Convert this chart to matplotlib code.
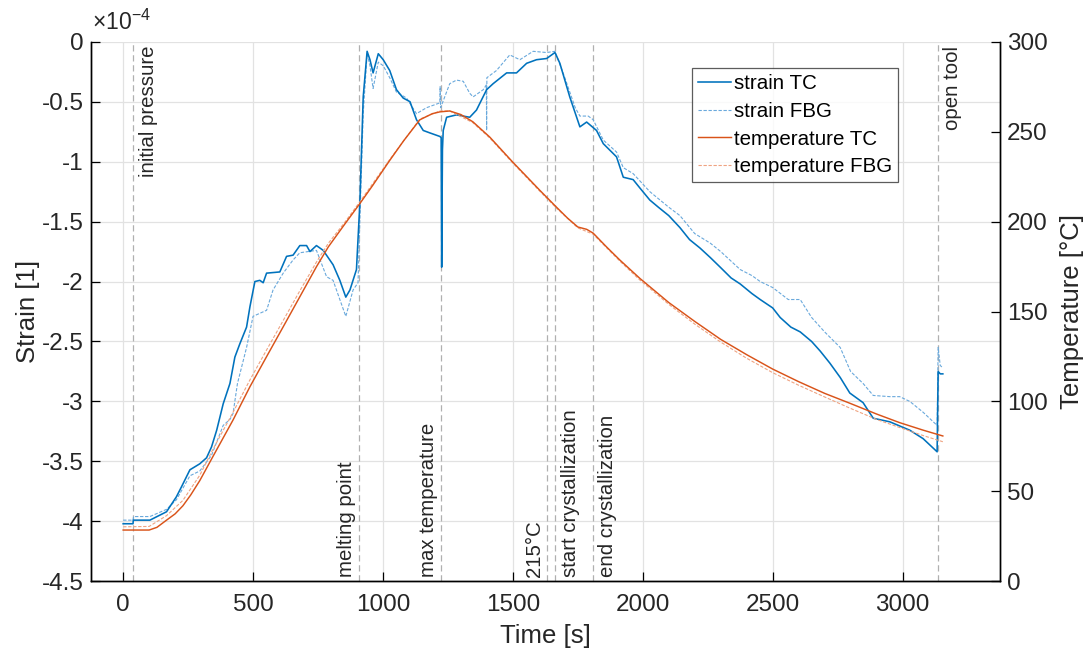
import matplotlib

matplotlib.use("Agg")
import matplotlib.pyplot as plt
from matplotlib.ticker import FuncFormatter

plt.rcParams.update(
    {
        "font.family": ["Liberation Sans", "DejaVu Sans"],
        "axes.unicode_minus": False,
        "mathtext.fontset": "custom",
        "mathtext.rm": "Liberation Sans",
    }
)

# strain in units of 1e-4
t_strain_tc = [0, 38, 39, 103, 167, 205, 225, 257, 295, 321, 340, 360, 385, 411, 430, 449, 475,
               488, 507, 526, 539, 552, 603, 629, 654, 680, 706, 719, 744, 770, 808, 834, 857,
               873, 898, 911, 924, 939, 950, 962, 982, 1001, 1026, 1052, 1078, 1104, 1129, 1155,
               1180, 1219, 1224, 1226, 1229, 1232, 1245, 1283, 1334, 1360, 1399, 1424, 1476,
               1514, 1553, 1591, 1630, 1662, 1681, 1719, 1758, 1784, 1822, 1848, 1899, 1925,
               1963, 1989, 2027, 2060, 2100, 2143, 2180, 2220, 2260, 2298, 2340, 2375, 2420,
               2452, 2500, 2529, 2570, 2606, 2650, 2683, 2720, 2760, 2797, 2848, 2887, 2951,
               3028, 3079, 3133, 3137, 3145, 3155]
strain_tc = [-4.02, -4.02, -3.99, -3.99, -3.92, -3.795, -3.71, -3.57, -3.52, -3.47, -3.38, -3.24,
             -3.02, -2.85, -2.63, -2.52, -2.38, -2.21, -2.00, -1.99, -2.01, -1.93, -1.92, -1.79,
             -1.78, -1.70, -1.70, -1.75, -1.70, -1.74, -1.86, -1.99, -2.13, -2.07, -1.90, -1.35,
             -0.46, -0.08, -0.15, -0.26, -0.10, -0.15, -0.24, -0.40, -0.47, -0.50, -0.65, -0.74,
             -0.76, -0.79, -0.80, -1.88, -0.90, -0.74, -0.63, -0.61, -0.63, -0.57, -0.40, -0.35,
             -0.26, -0.26, -0.18, -0.15, -0.14, -0.09, -0.18, -0.46, -0.71, -0.67, -0.74, -0.85,
             -0.96, -1.13, -1.15, -1.22, -1.32, -1.38, -1.45, -1.55, -1.65, -1.72, -1.80, -1.88,
             -1.97, -2.02, -2.10, -2.15, -2.22, -2.30, -2.38, -2.42, -2.50, -2.58, -2.68, -2.80,
             -2.93, -3.01, -3.14, -3.17, -3.24, -3.31, -3.42, -2.75, -2.77, -2.77]

t_strain_fbg = [0, 38, 40, 103, 167, 205, 257, 295, 340, 385, 411, 423, 440, 475, 500, 552, 577,
                616, 654, 680, 744, 783, 808, 834, 857, 885, 904, 911, 924, 939, 950, 962, 982,
                1001, 1026, 1052, 1091, 1129, 1168, 1219, 1220, 1222, 1257, 1283, 1309, 1334,
                1347, 1386, 1398, 1399, 1400, 1437, 1488, 1527, 1578, 1630, 1662, 1700, 1740,
                1758, 1790, 1809, 1848, 1899, 1925, 1963, 2027, 2100, 2143, 2200, 2260, 2300,
                2375, 2420, 2452, 2500, 2560, 2606, 2650, 2700, 2760, 2800, 2848, 2887, 2951,
                2989, 3028, 3079, 3133, 3137, 3145, 3155]
strain_fbg = [-3.99, -3.99, -3.96, -3.96, -3.90, -3.82, -3.62, -3.58, -3.45, -3.20, -3.15, -3.10,
              -2.85, -2.55, -2.29, -2.24, -2.07, -1.93, -1.82, -1.76, -1.74, -1.96, -1.99, -2.15,
              -2.29, -2.07, -2.01, -1.50, -0.60, -0.10, -0.20, -0.39, -0.17, -0.20, -0.30, -0.42,
              -0.47, -0.60, -0.55, -0.51, -0.375, -0.55, -0.35, -0.32, -0.33, -0.43, -0.46, -0.40,
              -0.36, -0.74, -0.30, -0.24, -0.11, -0.15, -0.08, -0.09, -0.08, -0.30, -0.55, -0.62,
              -0.62, -0.65, -0.82, -0.92, -1.05, -1.10, -1.25, -1.38, -1.45, -1.60, -1.68, -1.75,
              -1.90, -1.95, -2.00, -2.05, -2.15, -2.15, -2.30, -2.42, -2.55, -2.75, -2.85, -2.95,
              -2.96, -2.96, -3.00, -3.09, -3.20, -2.55, -2.70, -2.72]

t_temp_tc = [0, 100, 130, 167, 200, 230, 260, 295, 346, 423, 488, 552, 616, 680, 744, 790, 850,
             911, 960, 1026, 1080, 1142, 1190, 1219, 1257, 1300, 1346, 1411, 1500, 1550,
             1603, 1668, 1710, 1750, 1784, 1809, 1860, 1912, 1989, 2100, 2200, 2300, 2400, 2500,
             2600, 2700, 2797, 2900, 2989, 3080, 3155]
temp_tc = [28.5, 28.5, 30, 34, 37.5, 42, 48, 56, 69.5, 89.7, 108.2, 124.9, 141.5, 158.2,
           174.9, 186, 198, 210, 220, 234, 245, 256.6, 260, 261, 261.5, 259.5, 255.5, 247,
           233, 225.5, 217.5, 208, 202, 197, 195.7, 193.6, 186, 178.6, 168.4, 155, 144.5, 134.5,
           126, 118, 111, 104.5, 99, 93, 88.2, 84, 80.8]

t_temp_fbg = [0, 100, 167, 230, 295, 346, 423, 488, 552, 616, 680, 744, 790, 850, 911, 1026,
              1142, 1219, 1257, 1346, 1411, 1500, 1603, 1668, 1750, 1809, 1912, 1989, 2100, 2200,
              2300, 2400, 2500, 2600, 2700, 2797, 2900, 2989, 3080, 3155]
temp_fbg = [30.3, 30.5, 36.5, 45, 59, 73.5, 94, 112, 128.6, 145, 161.5, 177.5, 188, 199, 211,
            234.5, 257, 261.5, 261.5, 255, 246.5, 232.5, 217, 207.5, 196.5, 193, 178, 167.5, 154,
            143, 133, 124, 116, 109, 102.5, 96.3, 90, 85.5, 81, 77.6]

event_times = [38, 906, 1224, 1630, 1663, 1807, 3135]
event_labels = ["initial pressure", "melting point", "max temperature", "215°C",
                "start crystallization", "end crystallization", "open tool"]
event_side = ["top_right", "bottom_left", "bottom_left", "bottom_left",
              "bottom_right", "bottom_right", "top_right"]

BLUE = "#0072BD"
LIGHT_BLUE = "#6AA9DC"
ORANGE = "#D95319"
LIGHT_ORANGE = "#EFA381"

fig = plt.figure(figsize=(10.86, 6.53), dpi=100)
ax = fig.add_axes([0.0835, 0.1098, 0.8373, 0.8263])
ax2 = ax.twinx()

ax.set_xlim(-125, 3375)
ax.set_ylim(-4.5, 0)
ax2.set_ylim(0, 300)
ax.set_yticks([-4.5, -4, -3.5, -3, -2.5, -2, -1.5, -1, -0.5, 0])
ax.yaxis.set_major_formatter(FuncFormatter(lambda v, p: f"{v:g}"))
ax.set_xticks([0, 500, 1000, 1500, 2000, 2500, 3000])
ax2.set_yticks([0, 50, 100, 150, 200, 250, 300])

ax.grid(True, color="#e2e2e2", linewidth=0.9)
ax.set_axisbelow(True)

for t in event_times:
    ax.axvline(t, color="#b0b0b0", linewidth=0.9, dashes=(5, 3), zorder=1)

l1, = ax.plot(t_strain_tc, strain_tc, color=BLUE, linewidth=1.15, zorder=4)
l2, = ax.plot(t_strain_fbg, strain_fbg, color=LIGHT_BLUE, linewidth=0.8,
              dashes=(3, 1.5), zorder=3)
l3, = ax2.plot(t_temp_tc, temp_tc, color=ORANGE, linewidth=1.05, zorder=4)
l4, = ax2.plot(t_temp_fbg, temp_fbg, color=LIGHT_ORANGE, linewidth=0.8,
               dashes=(3, 1.5), zorder=3)

ann_kw = dict(textcoords="offset points", rotation=90, fontsize=14.7, color="#262626")
for t, lab, side in zip(event_times, event_labels, event_side):
    if side == "top_right":
        ax.annotate(lab, xy=(t, 0), xytext=(4, -3), ha="left", va="top", **ann_kw)
    elif side == "bottom_left":
        ax.annotate(lab, xy=(t, -4.5), xytext=(-2, 3), ha="right", va="bottom", **ann_kw)
    else:
        ax.annotate(lab, xy=(t, -4.5), xytext=(4, 3), ha="left", va="bottom", **ann_kw)

for a in (ax, ax2):
    a.spines["top"].set_visible(False)
    for s in a.spines.values():
        s.set_linewidth(1.0)
        s.set_color("#000000")
ax.tick_params(axis="both", direction="in", length=6.5, width=0.9, labelsize=17.5,
               colors="#000000", labelcolor="#262626", pad=9)
ax.tick_params(axis="y", pad=5)
ax2.tick_params(axis="y", direction="in", length=6.5, width=0.9, labelsize=17.5,
                labelcolor="#262626", pad=5)

ax.set_xlabel("Time [s]", fontsize=18.5, color="#262626", labelpad=6)
ax.set_ylabel("Strain [1]", fontsize=18.5, color="#262626", labelpad=1)
ax2.set_ylabel("Temperature [°C]", fontsize=18.5, color="#262626", labelpad=9)

ax.text(0.002, 1.013, r"$\times10^{-4}$", transform=ax.transAxes, fontsize=16.5,
        ha="left", va="bottom", color="#262626")

leg = ax.legend([l1, l2, l3, l4], ["strain TC", "strain FBG", "temperature TC", "temperature FBG"],
                loc="upper left", bbox_to_anchor=(0.661, 0.951), fontsize=14.8, frameon=True,
                fancybox=False, handlelength=1.6, handletextpad=0.15, labelspacing=0.42,
                borderpad=0.3, borderaxespad=0)
leg.get_frame().set_edgecolor("#333333")
leg.get_frame().set_linewidth(0.9)
leg.set_zorder(10)

fig.savefig("out.png", dpi=100)
